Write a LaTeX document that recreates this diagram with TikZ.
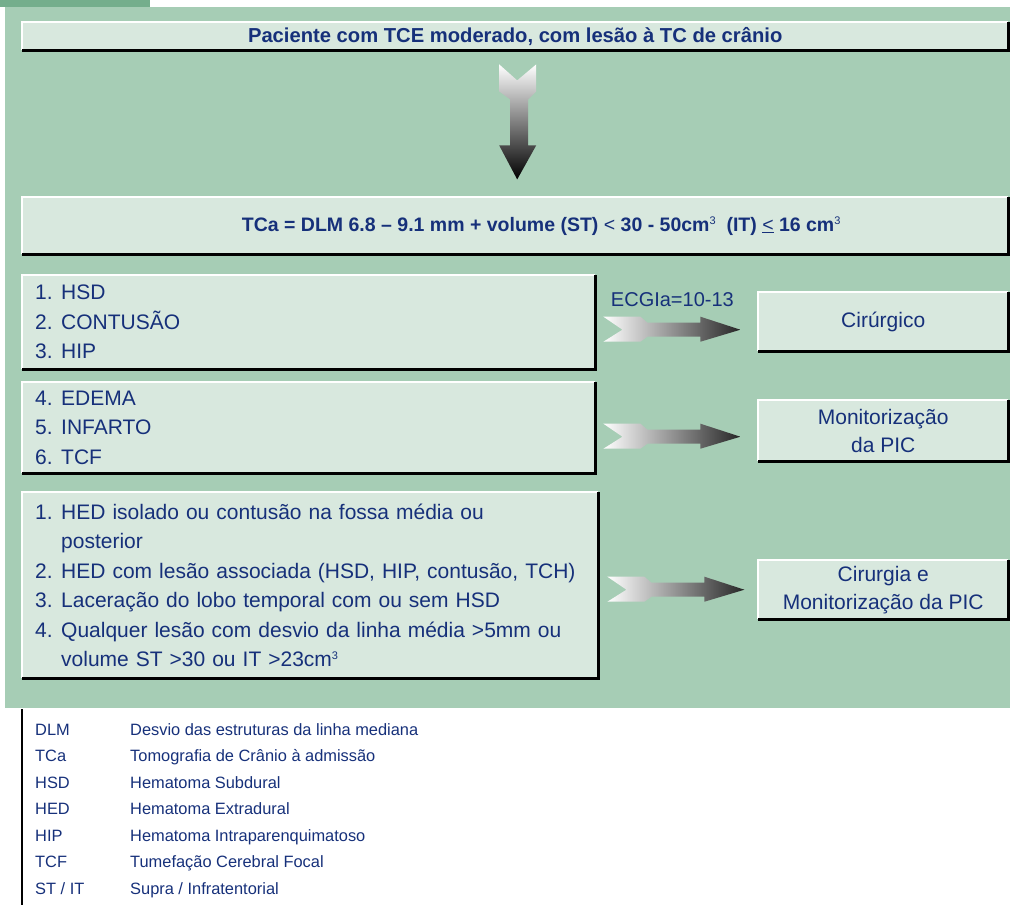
\documentclass[tikz,border=0pt]{standalone}
\usepackage{fontspec}
\setmainfont{Liberation Sans}
\usepackage{xcolor}
\usepackage{tikz}
\usetikzlibrary{positioning,calc}
\definecolor{panelgreen}{RGB}{166,205,181}
\definecolor{tabgreen}{RGB}{116,174,140}
\definecolor{boxfill}{RGB}{216,232,222}
\definecolor{inkblue}{RGB}{22,48,122}

\tikzset{
  box/.style={anchor=north west, fill=boxfill, inner sep=0pt, text=inkblue, font=\fontsize{21}{29.5}\selectfont},
  listbox/.style={box, inner xsep=13pt, align=left},
  resultbox/.style={box, minimum width=250pt, align=center, font=\fontsize{21}{28}\selectfont},
  legend/.style={anchor=base west, inner sep=0pt, text=inkblue, font=\fontsize{16.4}{16}\selectfont},
}
\newcommand{\bevel}[1]{%
  \draw[white, line width=2.5pt] (#1.south west) -- (#1.north west) -- (#1.north east);
  \draw[black, line width=3pt] (#1.south west) -- (#1.south east) -- (#1.north east);}
\newcommand{\sidearrow}[1]{%
  \shade[left color=white, right color=black!85, shift={(#1)}] (0,-13) -- (37,-13) -- (44,-7) -- (97,-7) -- (97,-13) -- (137,0) -- (97,12) -- (97,7) -- (44,7) -- (37,12) -- (0,12) -- (19,0) -- cycle;}
\newcommand{\itemno}[1]{\makebox[26pt][l]{#1}}
\newcommand{\cube}{\raisebox{7pt}{\mdseries\fontsize{11}{11}\selectfont 3}}

\begin{document}
\begin{tikzpicture}[x=1pt, y=-1pt]
    \useasboundingbox (0,0) rectangle (1010,905);
    % Panel
    \fill[tabgreen] (0,0) rectangle (150,7);
    \fill[panelgreen] (5,7) rectangle (1010,708);
    % Top boxes
    \node[box, minimum width=986pt, minimum height=28pt, font=\bfseries\fontsize{20.2}{24}\selectfont] (title) at (22,22) {Paciente com TCE moderado, com lesão à TC de crânio};
    \bevel{title}
    \node[box, minimum width=986pt, minimum height=57pt, font=\bfseries\fontsize{19.5}{24}\selectfont] (tca) at (22,197) {\hspace*{52pt}TCa = DLM 6.8 – 9.1 mm + volume (ST) {\mdseries <} 30 - 50cm\cube\ \ (IT) {\mdseries\underline{<}} 16 cm\cube};
    \bevel{tca}
    % Big arrow
    \shade[top color=white, bottom color=black, shift={($(title.south)+(2,14)$)}] (-18,0) -- (0,16) -- (19,0) -- (19,27) -- (11,35) -- (11,81) -- (19,81) -- (0,115) -- (-18,81) -- (-7,81) -- (-7,35) -- (-18,27) -- cycle;
    % Lesion lists
    \node[listbox, text width=547pt, minimum height=94pt] (b1) at (22,275) {\itemno{1.}HSD\\ \itemno{2.}CONTUSÃO\\ \itemno{3.}HIP};
    \bevel{b1}
    \node[listbox, text width=547pt, minimum height=91pt] (b2) at (22,382) {\itemno{4.}EDEMA\\ \itemno{5.}INFARTO\\ \itemno{6.}TCF};
    \bevel{b2}
    \node[listbox, text width=550pt, minimum height=186pt] (b3) at (22,492) {\itemno{1.}HED isolado ou contusão na fossa média ou\\ \itemno{}posterior\\ \itemno{2.}HED com lesão associada (HSD, HIP, contusão, TCH)\\ \itemno{3.}Laceração do lobo temporal com ou sem HSD\\ \itemno{4.}Qualquer lesão com desvio da linha média >5mm ou\\ \itemno{}volume ST >30 ou IT >23cm\cube};
    \bevel{b3}
    % Outcomes
    \node[resultbox, minimum height=59pt] (r1) at (758,292) {Cirúrgico};
    \bevel{r1}
    \node[resultbox, minimum height=61pt] (r2) at (758,400) {Monitorização\\da PIC};
    \bevel{r2}
    \node[resultbox, minimum height=59pt] (r3) at (758,560) {Cirurgia e\\Monitorização da PIC};
    \bevel{r3}
    % Arrows
    \sidearrow{$(b1.east|-r1.west)+(8,8)$}
    \sidearrow{$(b2.east|-r2.west)+(8,6)$}
    \sidearrow{$(b3.east|-r3.west)+(9,0)$}
    \node[text=inkblue, font=\fontsize{20}{20}\selectfont, inner sep=0pt] (ecg) at ($(b1.east|-r1.west)+(77,-22)$) {ECGIa=10-13};
    % Legend
    \draw[black, line width=2pt] (22,709) -- (22,905);
    \node[legend] (k1) at (35,735) {DLM};
    \node[legend] (d1) at (130,735) {Desvio das estruturas da linha mediana};
    \node[legend] (k2) at (35,761.5) {TCa};
    \node[legend] (d2) at (130,761.5) {Tomografia de Crânio à admissão};
    \node[legend] (k3) at (35,788) {HSD};
    \node[legend] (d3) at (130,788) {Hematoma Subdural};
    \node[legend] (k4) at (35,814.5) {HED};
    \node[legend] (d4) at (130,814.5) {Hematoma Extradural};
    \node[legend] (k5) at (35,841) {HIP};
    \node[legend] (d5) at (130,841) {Hematoma Intraparenquimatoso};
    \node[legend] (k6) at (35,867.5) {TCF};
    \node[legend] (d6) at (130,867.5) {Tumefação Cerebral Focal};
    \node[legend] (k7) at (35,894) {ST / IT};
    \node[legend] (d7) at (130,894) {Supra / Infratentorial};
\end{tikzpicture}
\end{document}
